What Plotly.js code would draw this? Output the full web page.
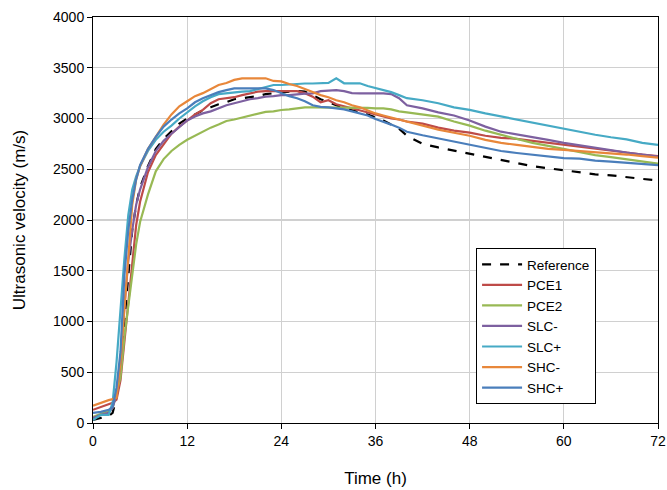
<!DOCTYPE html>
<html>
<head>
<meta charset="utf-8">
<script src="https://cdn.plot.ly/plotly-3.0.1.min.js"></script>
<style>html,body{margin:0;padding:0;background:#fff;}#chart{width:667px;height:490px;}</style>
</head>
<body>
<div id="chart"></div>
<script>
// Time (h)
const timeH = [0,1,2,2.5,3,3.5,4,4.5,5,5.5,6,7,8,9,10,11,12,
  13,14,15,16,17,18,19,20,21,22,23,24,25,26,27,28,29,30,31,32,33,34,35,36,37,38,39,40,
  42,44,46,48,50,52,54,56,58,60,62,64,66,68,70,72];

const seriesNames = ["Reference","PCE1","PCE2","SLC-","SLC+","SHC-","SHC+"];

const reference = [30,50,70,100,250,550,1000,1500,1900,2150,2320,2530,2700,2800,2880,2950,3000,
  3040,3080,3110,3140,3160,3190,3200,3210,3220,3240,3250,3260,3265,3270,3265,3230,3190,3160,3130,3100,3080,3060,3040,3010,2980,2940,2900,2830,
  2750,2715,2685,2650,2620,2590,2560,2530,2510,2490,2470,2450,2440,2420,2405,2390];

const pce1 = [130,160,190,200,230,420,800,1200,1620,1950,2180,2470,2640,2750,2850,2920,2980,
  3040,3085,3150,3190,3200,3210,3230,3250,3265,3270,3270,3270,3270,3270,3250,3215,3160,3180,3140,3120,3100,3080,3060,3040,3020,3000,2990,2970,
  2950,2910,2880,2860,2830,2810,2800,2780,2760,2740,2720,2700,2680,2660,2645,2630];

const pce2 = [60,90,120,150,300,450,850,1150,1450,1760,1980,2250,2480,2600,2680,2740,2790,
  2830,2870,2910,2940,2975,2990,3010,3030,3050,3065,3070,3084,3090,3100,3110,3110,3110,3110,3110,3110,3110,3110,3105,3100,3100,3090,3070,3060,
  3040,3018,2970,2930,2880,2840,2800,2760,2730,2700,2670,2640,2620,2600,2575,2555];

const slcMinus = [50,80,100,150,280,600,1150,1600,1900,2150,2300,2520,2680,2780,2850,2920,2980,
  3020,3050,3070,3100,3130,3150,3170,3190,3200,3215,3220,3230,3231,3240,3245,3248,3270,3275,3280,3270,3250,3248,3248,3248,3248,3240,3200,3130,
  3100,3060,3030,2980,2920,2870,2845,2820,2790,2760,2735,2710,2690,2665,2645,2625];

const slcPlus = [30,80,80,200,600,1150,1620,2050,2300,2430,2530,2680,2790,2870,2930,3000,3060,
  3120,3170,3210,3240,3250,3260,3265,3270,3290,3310,3330,3330,3335,3345,3345,3345,3345,3350,3396,3347,3347,3347,3320,3300,3280,3260,3230,3200,
  3180,3150,3110,3085,3050,3020,2990,2955,2930,2895,2865,2840,2815,2795,2760,2740];

const shcMinus = [170,200,225,235,250,600,1150,1700,2150,2400,2530,2700,2820,2940,3040,3120,3170,
  3220,3250,3290,3330,3350,3380,3396,3396,3396,3396,3370,3365,3340,3320,3290,3260,3230,3210,3180,3160,3130,3110,3080,3050,3030,3010,2990,2970,
  2930,2890,2860,2830,2790,2760,2740,2720,2700,2690,2680,2670,2660,2645,2630,2615];

const shcPlus = [100,110,130,160,350,700,1450,1900,2200,2400,2540,2700,2820,2920,2990,3050,3100,
  3160,3200,3230,3260,3280,3297,3297,3297,3297,3297,3280,3250,3220,3200,3170,3130,3115,3110,3100,3090,3070,3050,3030,2995,2970,2940,2910,2870,
  2835,2805,2775,2745,2710,2680,2660,2645,2630,2610,2605,2585,2575,2565,2550,2540];

const xTicks = [0,12,24,36,48,60,72];
const yTicks = [0,500,1000,1500,2000,2500,3000,3500,4000];

const allSeries = [reference,pce1,pce2,slcMinus,slcPlus,shcMinus,shcPlus];
const colors = ["#000000","#BE4B48","#98B954","#7D60A0","#46AAC5","#E8873A","#4A7EBB"];

const traces = allSeries.map((ys,i)=>({
  x: timeH, y: ys, type: "scatter", mode: "lines", name: seriesNames[i],
  line: {color: colors[i], width: 2.2, dash: i===0 ? "dash" : "solid"}
}));

const font = {family: "Liberation Sans, Arial, sans-serif", color: "#000", size: 14};

const layout = {
  width: 667, height: 490,
  margin: {l: 93, r: 9, t: 17, b: 67},
  paper_bgcolor: "#fff", plot_bgcolor: "#fff",
  font: font,
  showlegend: true,
  legend: {x: 0.678, y: 0.431, xanchor: "left", yanchor: "top",
    bgcolor: "#fff", bordercolor: "#000", borderwidth: 1,
    itemwidth: 40,
    font: {family: font.family, size: 13.5, color: "#000"}},
  xaxis: {range: [0,72], tickvals: xTicks, ticktext: xTicks.map(String),
    showline: true, linecolor: "#000", linewidth: 1, mirror: true,
    ticks: "outside", ticklen: 5, tickcolor: "#000",
    showgrid: true, gridcolor: "#D0D0D0", gridwidth: 1.3, zeroline: false,
    tickfont: {size: 14},
    title: {text: "Time (h)", font: {size: 17}, standoff: 24}},
  yaxis: {range: [0,4000], tickvals: yTicks, ticktext: yTicks.map(String),
    showline: true, linecolor: "#000", linewidth: 1, mirror: true,
    ticks: "outside", ticklen: 5, tickcolor: "#000",
    showgrid: true, gridcolor: "#D0D0D0", gridwidth: 1.3, zeroline: false,
    tickfont: {size: 14},
    title: {text: "Ultrasonic velocity (m/s)", font: {size: 17}, standoff: 23}}
};

Plotly.newPlot("chart", traces, layout, {displayModeBar: false, staticPlot: true});
</script>
</body>
</html>
